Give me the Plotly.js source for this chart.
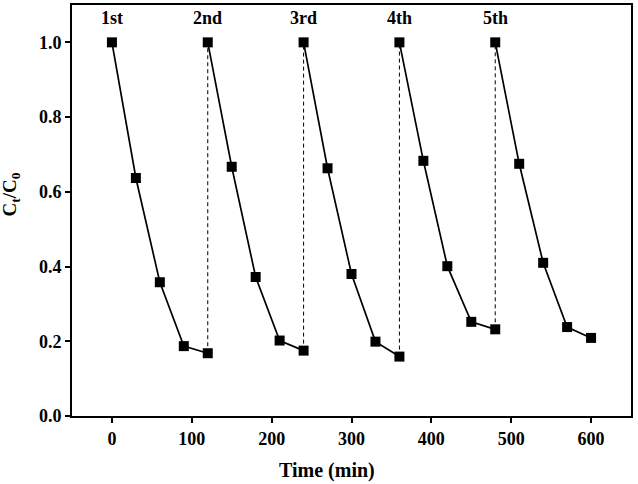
<!DOCTYPE html>
<html><head><meta charset="utf-8">
<script src="https://cdn.plot.ly/plotly-3.0.1.min.js"></script>
<style>body{margin:0;background:#fff}#chart{width:638px;height:484px}</style>
</head><body><div id="chart"></div>
<script>
var cycleLabels = ["1st", "2nd", "3rd", "4th", "5th"];
var time1 = [0, 30, 60, 90, 120];
var ratio1 = [1.0, 0.637, 0.358, 0.187, 0.168];
var time2 = [120, 150, 180, 210, 240];
var ratio2 = [1.0, 0.667, 0.372, 0.202, 0.175];
var time3 = [240, 270, 300, 330, 360];
var ratio3 = [1.0, 0.663, 0.380, 0.199, 0.159];
var time4 = [360, 390, 420, 450, 480];
var ratio4 = [1.0, 0.683, 0.401, 0.252, 0.232];
var time5 = [480, 510, 540, 570, 600];
var ratio5 = [1.0, 0.675, 0.410, 0.238, 0.209];
var xTicks = [0, 100, 200, 300, 400, 500, 600];
var yTicks = [0.0, 0.2, 0.4, 0.6, 0.8, 1.0];
var xTitle = 'Time (min)';
var yTitle = 'C<sub>t</sub>/C<sub>0</sub>';

var times = [time1, time2, time3, time4, time5];
var ratios = [ratio1, ratio2, ratio3, ratio4, ratio5];
var traces = [];
for (var i = 0; i < 4; i++) {
  var tEnd = times[i][times[i].length - 1];
  traces.push({
    x: [tEnd, times[i + 1][0]],
    y: [ratios[i][ratios[i].length - 1], ratios[i + 1][0]],
    mode: 'lines', type: 'scatter', showlegend: false, hoverinfo: 'skip',
    line: {color: '#000', width: 1, dash: '4px,3px'}
  });
}
for (var j = 0; j < 5; j++) {
  traces.push({
    x: times[j], y: ratios[j], mode: 'lines+markers', type: 'scatter', showlegend: false,
    line: {color: '#000', width: 1.7},
    marker: {symbol: 'square', size: 10, color: '#000'}
  });
}
var fam = 'Liberation Serif, Times New Roman, serif';
var annotations = cycleLabels.map(function (lab, k) {
  return {x: times[k][0], y: 1.066, text: lab, showarrow: false, xanchor: 'center', yanchor: 'middle',
    font: {family: fam, size: 18, color: '#000', weight: 'bold'}};
});
annotations.push({xref: 'paper', yref: 'paper', x: 0.456, y: -0.133, text: xTitle, showarrow: false,
  xanchor: 'center', yanchor: 'middle', font: {family: fam, size: 20, color: '#000', weight: 'bold'}});
annotations.push({xref: 'paper', yref: 'paper', x: -0.11, y: 0.538, text: yTitle, showarrow: false, textangle: -90,
  xanchor: 'center', yanchor: 'middle', font: {family: fam, size: 19, color: '#000', weight: 'bold'}});
var fontB = {family: fam, size: 18, color: '#000', weight: 'bold'};
var layout = {
  width: 638, height: 484,
  margin: {l: 72, r: 7, t: 5, b: 68},
  paper_bgcolor: '#fff', plot_bgcolor: '#fff',
  showlegend: false,
  annotations: annotations,
  xaxis: {
    range: [-50, 650], tickvals: xTicks, ticktext: xTicks.map(String),
    ticks: 'outside', ticklen: 5, tickwidth: 2, tickcolor: '#000',
    showline: true, linewidth: 2, linecolor: '#000', mirror: true,
    showgrid: false, zeroline: false, tickfont: fontB
  },
  yaxis: {
    range: [0, 1.1], tickvals: yTicks, ticktext: yTicks.map(function (v) { return v.toFixed(1); }),
    ticks: 'outside', ticklen: 5, tickwidth: 2, tickcolor: '#000',
    showline: true, linewidth: 2, linecolor: '#000', mirror: true,
    showgrid: false, zeroline: false, tickfont: fontB
  }
};
Plotly.newPlot('chart', traces, layout, {staticPlot: true});
</script></body></html>
